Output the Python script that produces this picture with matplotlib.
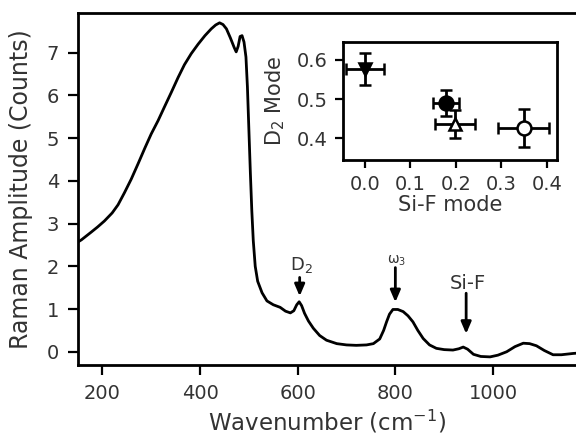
import matplotlib
matplotlib.use("Agg")
import matplotlib.pyplot as plt

plt.rcParams['font.family'] = ['DejaVu Sans']

# Main Raman spectrum
wavenumber = [150, 157, 177, 190, 204, 220, 232, 245, 259, 273, 287, 300, 314, 327, 341, 355,
              368, 382, 396, 410, 423, 432, 440, 447, 454, 462, 470, 474, 478, 482, 486,
              490, 494, 497, 500, 503, 506, 509, 513, 518, 527, 537, 550, 564, 575, 585,
              592, 598, 603, 608, 614, 622, 632, 645, 659, 680, 700, 720, 741, 755, 768,
              776, 782, 788, 795, 805, 816, 826, 836, 846, 857, 870, 884, 900, 918, 930,
              939, 948, 960, 975, 994, 1010, 1028, 1045, 1062, 1075, 1089, 1105, 1123,
              1140, 1164, 1175]
amplitude = [2.57, 2.62, 2.80, 2.92, 3.06, 3.25, 3.44, 3.72, 4.04, 4.40, 4.77, 5.10, 5.41, 5.73,
             6.07, 6.42, 6.72, 6.98, 7.20, 7.40, 7.56, 7.65, 7.70, 7.66, 7.56, 7.35, 7.12,
             7.02, 7.15, 7.38, 7.40, 7.25, 6.90, 6.20, 5.20, 4.20, 3.30, 2.60, 2.00, 1.65,
             1.38, 1.19, 1.10, 1.04, 0.95, 0.91, 0.96, 1.10, 1.17, 1.08, 0.90, 0.72, 0.55,
             0.38, 0.27, 0.19, 0.16, 0.15, 0.16, 0.19, 0.30, 0.50, 0.70, 0.88, 0.99, 0.99,
             0.94, 0.84, 0.70, 0.50, 0.31, 0.16, 0.08, 0.05, 0.04, 0.07, 0.11, 0.06, -0.06,
             -0.11, -0.12, -0.08, 0.00, 0.12, 0.20, 0.19, 0.14, 0.03, -0.07, -0.07, -0.04,
             -0.03]

x_ticks = [200, 400, 600, 800, 1000]
y_ticks = [0, 1, 2, 3, 4, 5, 6, 7]

# Peak annotations: label, x position, label y, arrow tail y, arrow tip y
peak_labels = ["D$_2$", "ω$_3$", "Si-F"]
peak_x = [604, 800, 945]
peak_label_y = [2.02, 2.14, 1.60]
arrow_tail_y = [1.74, 1.97, 1.37]
arrow_tip_y = [1.30, 1.16, 0.42]

# Inset data
sif_mode = [0.0, 0.178, 0.198, 0.349]
d2_mode = [0.576, 0.490, 0.436, 0.426]
sif_err = [0.042, 0.028, 0.045, 0.056]
d2_err = [0.041, 0.034, 0.035, 0.049]
markers = ['v', 'o', '^', 'o']
filled = [True, True, False, False]
inset_x_ticks = [0.0, 0.1, 0.2, 0.3, 0.4]
inset_y_ticks = [0.4, 0.5, 0.6]

fig = plt.figure(figsize=(5.76, 4.38), dpi=100)
ax = fig.add_axes([78/576, 1-365/438, 1-78/576, (365-13)/438])
ax.plot(wavenumber, amplitude, color='black', lw=2.0)
ax.set_xlim(150, 1170)
ax.set_ylim(-0.31, 7.93)
ax.set_xticks(x_ticks)
ax.set_yticks(y_ticks)
ax.spines['right'].set_visible(False)
for s in ['left', 'top', 'bottom']:
    ax.spines[s].set_linewidth(2.0)
ax.tick_params(direction='out', length=7.5, width=1.6, labelsize=14, pad=6,
               colors='black', labelcolor='#333333')
ax.set_xlabel("Wavenumber (cm$^{-1}$)", fontsize=16.5, color='#333333')
ax.set_ylabel("Raman Amplitude (Counts)", fontsize=17, color='#333333')
ax.xaxis.label.set_va('baseline')
ax.xaxis.set_label_coords(0.5, (365-430)/352)
ax.yaxis.set_label_coords((33-78)/498, 0.5)

sizes = [13, 10, 14]
for lab, px, ly, ty, hy, fs in zip(peak_labels, peak_x, peak_label_y, arrow_tail_y, arrow_tip_y, sizes):
    ax.text(px + 3, ly, lab, ha='center', va='center', fontsize=fs, color='#333333')
    ax.annotate('', xy=(px, hy), xytext=(px, ty),
                arrowprops=dict(arrowstyle='-|>,head_length=0.7,head_width=0.3',
                                color='black', lw=2.0, shrinkA=0, shrinkB=0))

# Inset
ins = fig.add_axes([343/576, 1-160/438, (557-343)/576, (160-42)/438])
for x, y, xe, ye, m, f in zip(sif_mode, d2_mode, sif_err, d2_err, markers, filled):
    ins.errorbar(x, y, xerr=xe, yerr=ye, fmt=m, ms=9 if m != 'o' else 10,
                 mfc='black' if f else 'white', mec='black', mew=1.8,
                 ecolor='black', elinewidth=2.0, capsize=4.5, capthick=2.0)
ins.set_xlim(-0.048, 0.422)
ins.set_ylim(0.344, 0.646)
ins.set_xticks(inset_x_ticks)
ins.set_yticks(inset_y_ticks)
ins.set_xticklabels([f"{v:.1f}" for v in inset_x_ticks])
ins.set_yticklabels([f"{v:.1f}" for v in inset_y_ticks])
for s in ins.spines.values():
    s.set_linewidth(2.0)
ins.tick_params(direction='out', length=6, width=1.6, labelsize=14, pad=5,
                colors='black', labelcolor='#333333')
ins.set_xlabel("Si-F mode", fontsize=15, color='#333333')
ins.set_ylabel("D$_2$ Mode", fontsize=15, color='#333333')
ins.xaxis.set_label_coords(0.5, -0.30)
ins.yaxis.set_label_coords((287-343)/214, 0.5)

fig.savefig("out.png", dpi=100)
